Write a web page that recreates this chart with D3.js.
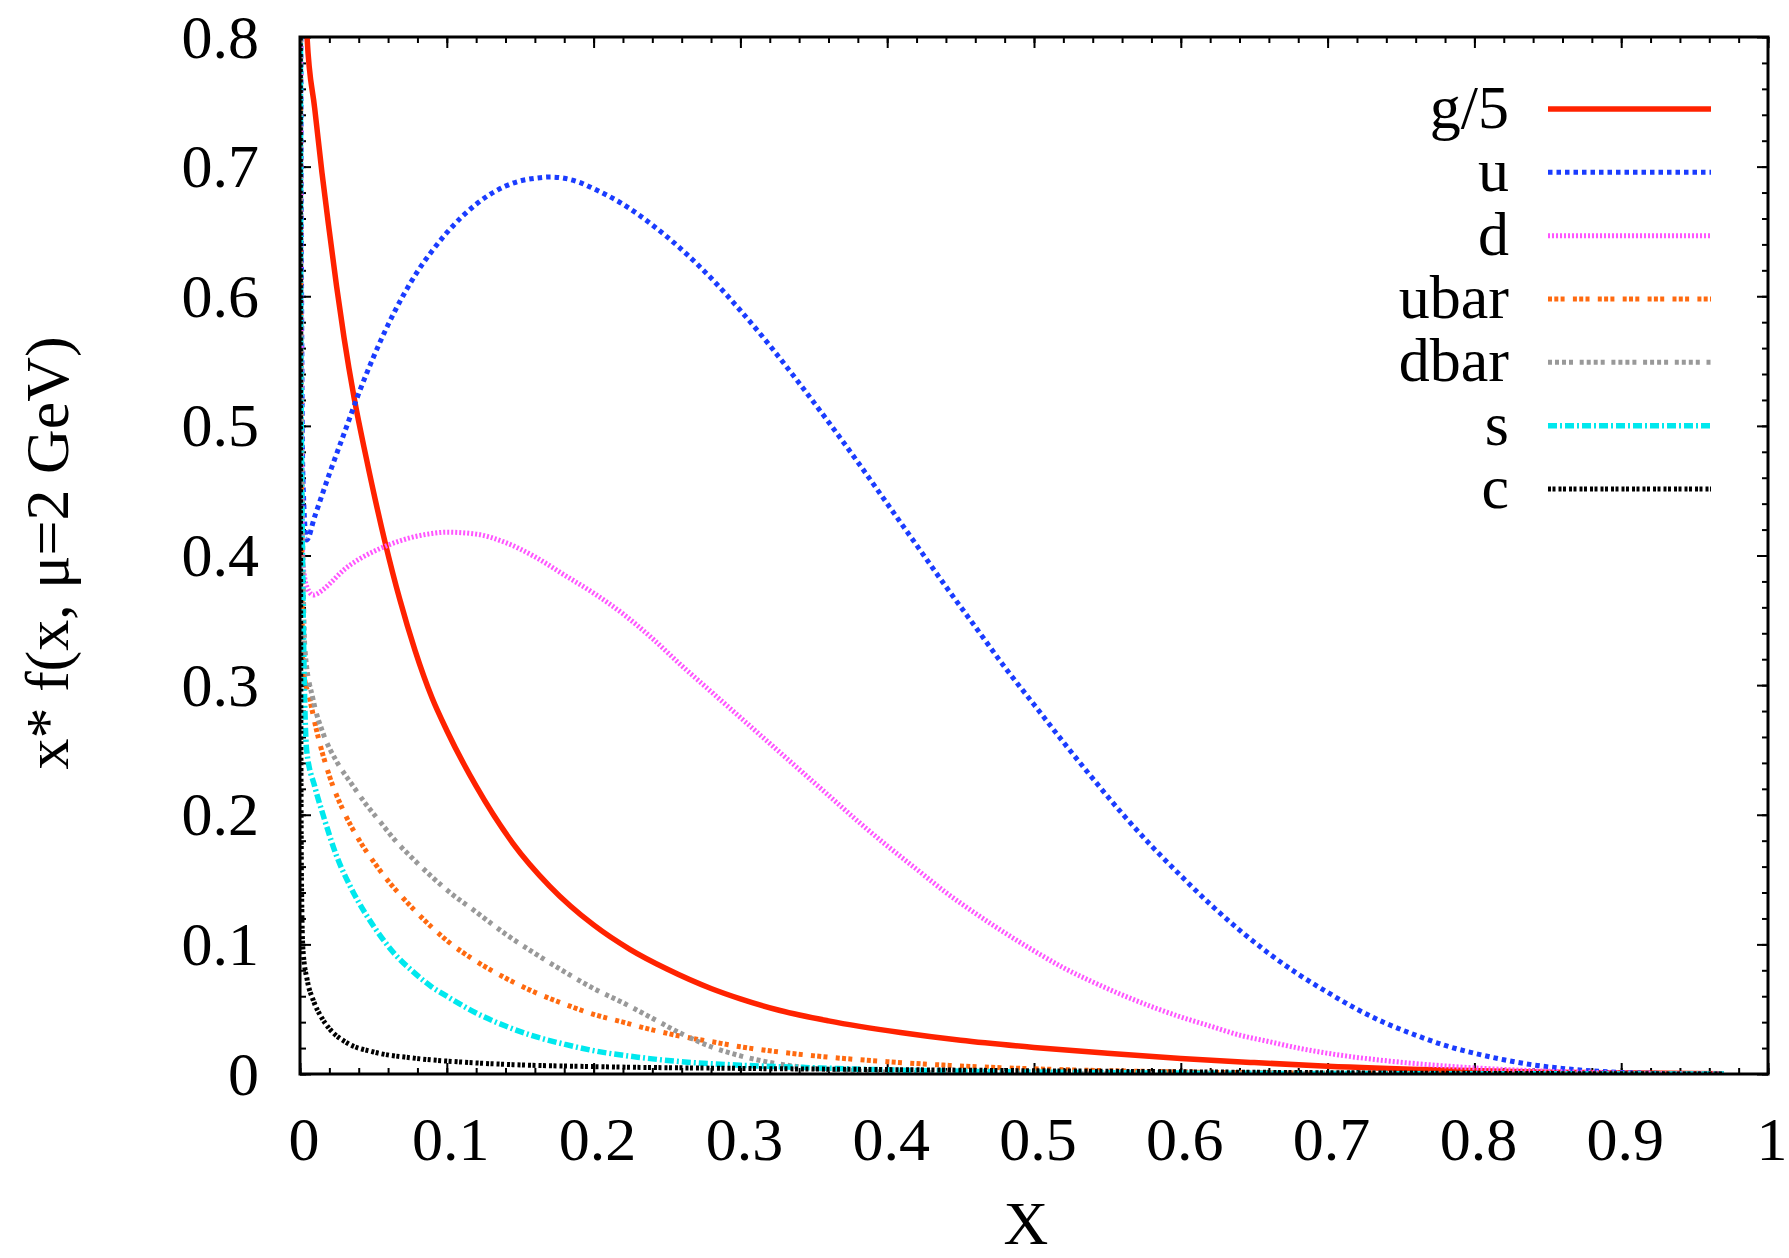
<!DOCTYPE html>
<html>
<head>
<meta charset="utf-8">
<script src="https://cdn.jsdelivr.net/npm/d3@7"></script>
<style>
  html, body { margin: 0; padding: 0; background: #fff; }
  svg { display: block; }
  text { font-family: "Liberation Serif", "Times New Roman", serif; fill: #000; }
</style>
</head>
<body>
<svg id="chart" width="1789" height="1258"></svg>
<script>
// ---------- data ----------
const seriesNames = ["g/5", "u", "d", "ubar", "dbar", "s", "c"];
const xTickValues = [0, 0.1, 0.2, 0.3, 0.4, 0.5, 0.6, 0.7, 0.8, 0.9, 1];
const xTickLabels = ["0", "0.1", "0.2", "0.3", "0.4", "0.5", "0.6", "0.7", "0.8", "0.9", "1"];
const yTickValues = [0, 0.1, 0.2, 0.3, 0.4, 0.5, 0.6, 0.7, 0.8];
const yTickLabels = ["0", "0.1", "0.2", "0.3", "0.4", "0.5", "0.6", "0.7", "0.8"];
const xTitle = "X";
const yTitle = "x* f(x, \u03BC=2 GeV)";

const gluon5 = [[0.0005,1.5],[0.002,1.0],[0.0048,0.8],[0.01,0.745],[0.015,0.695],[0.02,0.65],[0.025,0.607],[0.03,0.568],[0.0368,0.522],[0.045,0.476],[0.058,0.41],[0.068,0.366],[0.0783,0.327],[0.09,0.29],[0.1,0.265],[0.12,0.222],[0.145,0.178],[0.17,0.145],[0.2,0.115],[0.225,0.096],[0.25,0.081],[0.28,0.066],[0.3,0.058],[0.327,0.049],[0.36,0.041],[0.409,0.032],[0.45,0.026],[0.5,0.0205],[0.55,0.016],[0.6,0.012],[0.65,0.0088],[0.7,0.006],[0.774,0.0032],[0.85,0.0013],[0.97,0.0001]];

const uQuark = [[0.0002,1.2],[0.0008,0.7],[0.002,0.46],[0.0045,0.412],[0.01,0.43],[0.02,0.463],[0.03,0.494],[0.04,0.525],[0.05,0.553],[0.06,0.578],[0.07,0.6],[0.08,0.619],[0.09,0.635],[0.1,0.649],[0.11,0.661],[0.12,0.671],[0.13,0.679],[0.14,0.685],[0.15,0.689],[0.16,0.691],[0.17,0.692],[0.18,0.691],[0.19,0.688],[0.2,0.683],[0.22,0.671],[0.24,0.655],[0.26,0.636],[0.28,0.614],[0.3,0.589],[0.32,0.562],[0.34,0.533],[0.36,0.503],[0.38,0.472],[0.4,0.44],[0.42,0.408],[0.44,0.376],[0.46,0.345],[0.48,0.314],[0.5,0.285],[0.52,0.256],[0.54,0.228],[0.56,0.201],[0.58,0.176],[0.6,0.153],[0.62,0.131],[0.64,0.111],[0.66,0.093],[0.68,0.077],[0.7,0.063],[0.72,0.05],[0.74,0.039],[0.76,0.03],[0.78,0.022],[0.8,0.016],[0.82,0.011],[0.84,0.007],[0.86,0.0043],[0.88,0.0024],[0.9,0.0012],[0.93,0.0004],[0.97,0.0001]];

const dQuark = [[0.0002,1.0],[0.0008,0.55],[0.002,0.394],[0.005,0.375],[0.009,0.3695],[0.015,0.373],[0.02,0.378],[0.03,0.389],[0.04,0.397],[0.05,0.403],[0.06,0.408],[0.07,0.412],[0.08,0.415],[0.09,0.417],[0.1,0.418],[0.12,0.4165],[0.14,0.41],[0.16,0.399],[0.18,0.385],[0.2,0.371],[0.22,0.355],[0.24,0.336],[0.26,0.315],[0.28,0.295],[0.3,0.275],[0.32,0.255],[0.34,0.235],[0.36,0.215],[0.38,0.195],[0.4,0.176],[0.42,0.158],[0.44,0.14],[0.46,0.124],[0.48,0.109],[0.5,0.095],[0.52,0.082],[0.54,0.071],[0.56,0.061],[0.58,0.052],[0.6,0.044],[0.62,0.037],[0.64,0.03],[0.66,0.025],[0.68,0.02],[0.7,0.016],[0.74,0.0102],[0.78,0.0062],[0.82,0.0035],[0.86,0.0018],[0.9,0.0008],[0.97,0.0001]];

const ubarQuark = [[0.0001,1.5],[0.0005,0.6],[0.002,0.314],[0.0068,0.2885],[0.0113,0.265],[0.02,0.23],[0.03,0.202],[0.04,0.181],[0.05,0.164],[0.06,0.149],[0.07,0.136],[0.08,0.124],[0.09,0.113],[0.1,0.103],[0.12,0.087],[0.14,0.074],[0.16,0.063],[0.18,0.054],[0.2,0.046],[0.22,0.04],[0.24,0.034],[0.26,0.029],[0.28,0.025],[0.3,0.021],[0.33,0.0165],[0.36,0.013],[0.4,0.0095],[0.45,0.0062],[0.5,0.004],[0.6,0.0016],[0.7,0.0006],[0.8,0.0002],[0.97,0]];

const dbarQuark = [[0.0001,1.5],[0.0005,0.6],[0.0034,0.327],[0.009,0.2885],[0.0157,0.263],[0.025,0.241],[0.035,0.224],[0.045,0.208],[0.055,0.194],[0.065,0.18],[0.077,0.166],[0.09,0.152],[0.1,0.142],[0.12,0.125],[0.14,0.108],[0.16,0.093],[0.18,0.079],[0.2,0.066],[0.22,0.055],[0.24,0.043],[0.26,0.031],[0.28,0.021],[0.3,0.014],[0.32,0.009],[0.34,0.0055],[0.37,0.003],[0.4,0.0015],[0.5,0.0003],[0.97,0]];

const sQuark = [[0.0001,1.5],[0.0005,0.55],[0.0045,0.25],[0.01,0.222],[0.0157,0.2],[0.025,0.168],[0.035,0.143],[0.045,0.123],[0.0545,0.107],[0.065,0.092],[0.077,0.079],[0.09,0.067],[0.1,0.06],[0.12,0.047],[0.14,0.037],[0.16,0.029],[0.18,0.023],[0.2,0.018],[0.23,0.013],[0.26,0.0095],[0.3,0.0068],[0.35,0.0048],[0.4,0.0032],[0.5,0.0015],[0.6,0.0007],[0.97,0]];

const cQuark = [[0.0001,1.2],[0.0004,0.4],[0.001,0.15],[0.002,0.096],[0.005,0.072],[0.009,0.057],[0.015,0.043],[0.02,0.035],[0.032,0.024],[0.05,0.017],[0.077,0.0123],[0.11,0.0092],[0.145,0.0072],[0.2,0.0057],[0.3,0.0043],[0.4,0.0034],[0.5,0.0025],[0.6,0.0017],[0.7,0.001],[0.8,0.0005],[0.97,0]];

// ---------- styles ----------
const seriesData = [gluon5, uQuark, dQuark, ubarQuark, dbarQuark, sQuark, cQuark];
const seriesColors = ["#ff2200", "#1a3cff", "#ff55ff", "#ff6a10", "#999999", "#00e8ee", "#000000"];
const seriesWidths = [5.5, 5, 5, 5, 5, 5.5, 5];
const seriesDash = [null, "4.5,4", "2,2", "4,2.3,4,2.3,4,8.3", "4,3,4,3,4,3,4,6.7", "9,3,2,3", "3,1.5,3,3"];

// ---------- layout ----------
const M = { left: 300, right: 1768, top: 37, bottom: 1074 };
const svg = d3.select("#chart");
const x = d3.scaleLinear().domain([0, 1]).range([M.left, M.right]);
const y = d3.scaleLinear().domain([0, 0.8]).range([M.bottom, M.top]);

svg.append("defs").append("clipPath").attr("id", "plotClip")
  .append("rect").attr("x", M.left).attr("y", M.top)
  .attr("width", M.right - M.left).attr("height", M.bottom - M.top);

// ticks (inward, mirrored on all four sides)
const minorX = d3.range(0, 1.0001, 0.02);
const minorY = d3.range(0, 0.8001, 0.02);
function tickGroup(axisFn, scale, vals, size, transform) {
  const g = svg.append("g").attr("transform", transform)
    .call(axisFn(scale).tickValues(vals).tickSize(size).tickFormat(""));
  g.select(".domain").remove();
  g.selectAll(".tick line").attr("stroke", "#000").attr("stroke-width", 2);
  return g;
}
tickGroup(d3.axisBottom, x, minorX, -6, `translate(0,${M.bottom})`);
tickGroup(d3.axisBottom, x, xTickValues, -11, `translate(0,${M.bottom})`);
tickGroup(d3.axisTop, x, minorX, -6, `translate(0,${M.top})`);
tickGroup(d3.axisTop, x, xTickValues, -11, `translate(0,${M.top})`);
tickGroup(d3.axisLeft, y, minorY, -6, `translate(${M.left},0)`);
tickGroup(d3.axisLeft, y, yTickValues, -11, `translate(${M.left},0)`);
tickGroup(d3.axisRight, y, minorY, -6, `translate(${M.right},0)`);
tickGroup(d3.axisRight, y, yTickValues, -11, `translate(${M.right},0)`);

// tick labels
svg.append("g").selectAll("text").data(xTickValues).join("text")
  .attr("x", d => x(d) + 4).attr("y", 1160)
  .attr("text-anchor", "middle").attr("font-size", 62)
  .text((d, i) => xTickLabels[i]);
svg.append("g").selectAll("text").data(yTickValues).join("text")
  .attr("x", 259).attr("y", d => y(d) + 20.5)
  .attr("text-anchor", "end").attr("font-size", 62)
  .text((d, i) => yTickLabels[i]);

// axis titles
svg.append("text").attr("x", 1026).attr("y", 1244)
  .attr("text-anchor", "middle").attr("font-size", 62).text(xTitle);
svg.append("text").attr("transform", "translate(68,553) rotate(-90)")
  .attr("text-anchor", "middle").attr("font-size", 62).text(yTitle);

// curves
const line = d3.line().x(d => x(d[0])).y(d => y(d[1])).curve(d3.curveMonotoneX);
const plot = svg.append("g").attr("clip-path", "url(#plotClip)");
seriesData.forEach((data, i) => {
  plot.append("path").datum(data).attr("d", line)
    .attr("fill", "none").attr("stroke", seriesColors[i])
    .attr("stroke-width", seriesWidths[i])
    .attr("stroke-dasharray", seriesDash[i])
    .attr("stroke-linejoin", "round");
});

// frame
svg.append("rect").attr("x", M.left).attr("y", M.top)
  .attr("width", M.right - M.left).attr("height", M.bottom - M.top)
  .attr("fill", "none").attr("stroke", "#000").attr("stroke-width", 3);

// legend
const legendY = d3.scalePoint().domain(seriesNames).range([109, 489]);
const leg = svg.append("g");
seriesNames.forEach((name, i) => {
  const ly = legendY(name);
  leg.append("text").attr("x", 1509).attr("y", ly + 19)
    .attr("text-anchor", "end").attr("font-size", 62).text(name);
  leg.append("line").attr("x1", 1548).attr("x2", 1711).attr("y1", ly).attr("y2", ly)
    .attr("stroke", seriesColors[i]).attr("stroke-width", seriesWidths[i])
    .attr("stroke-dasharray", seriesDash[i]);
});
</script>
</body>
</html>
